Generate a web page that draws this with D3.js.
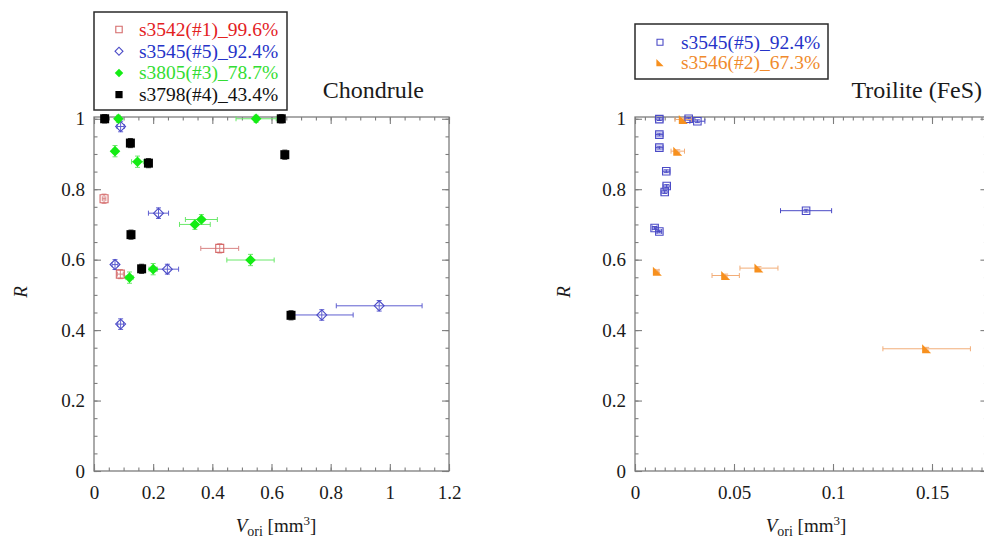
<!DOCTYPE html>
<html>
<head>
<meta charset="utf-8">
<script src="https://cdn.jsdelivr.net/npm/d3@7"></script>
<style>
  html, body { margin: 0; padding: 0; background: #fff; }
  svg { display: block; font-family: "Liberation Serif", "Times New Roman", serif; }
</style>
</head>
<body>
<svg id="chart" width="984" height="541"></svg>
<script>
/* =======================================================================
   Recovery ratio R vs. original volume – Chondrule / Troilite (FeS)
   ======================================================================= */

/* Data: each row is [V_ori, R, V error, R error]
======================================================================= */
var s3542Chondrule = [
  [0.034, 0.773, 0.006, 0.013],
  [0.089, 0.559, 0.010, 0.013],
  [0.425, 0.632, 0.064, 0.013]
];
var s3545Chondrule = [
  [0.090, 0.978, 0.012, 0.015],
  [0.218, 0.732, 0.034, 0.015],
  [0.071, 0.586, 0.010, 0.014],
  [0.248, 0.573, 0.038, 0.014],
  [0.090, 0.417, 0.010, 0.015],
  [0.770, 0.443, 0.106, 0.015],
  [0.964, 0.469, 0.145, 0.015]
];
var s3805Chondrule = [
  [0.0825, 1.000, 0.008, 0.010],
  [0.071, 0.908, 0.008, 0.016],
  [0.147, 0.878, 0.020, 0.016],
  [0.363, 0.714, 0.054, 0.014],
  [0.341, 0.700, 0.052, 0.014],
  [0.529, 0.599, 0.080, 0.016],
  [0.120, 0.549, 0.012, 0.016],
  [0.200, 0.573, 0.014, 0.016],
  [0.548, 1.000, 0.068, 0.010]
];
var s3798Chondrule = [
  [0.036, 1.000, 0.010, 0.012],
  [0.123, 0.931, 0.010, 0.013],
  [0.184, 0.874, 0.010, 0.013],
  [0.125, 0.671, 0.010, 0.013],
  [0.161, 0.574, 0.010, 0.013],
  [0.633, 1.000, 0.010, 0.012],
  [0.645, 0.898, 0.010, 0.013],
  [0.666, 0.442, 0.010, 0.013]
];
var s3545Troilite = [
  [0.0123, 0.999, 0.0018, 0.004],
  [0.0123, 0.955, 0.0018, 0.004],
  [0.0123, 0.918, 0.0018, 0.004],
  [0.0158, 0.851, 0.0018, 0.004],
  [0.0160, 0.809, 0.0018, 0.004],
  [0.0150, 0.792, 0.0018, 0.004],
  [0.0099, 0.690, 0.0012, 0.004],
  [0.0123, 0.680, 0.0012, 0.004],
  [0.0271, 1.000, 0.0018, 0.004],
  [0.0315, 0.993, 0.0038, 0.004],
  [0.0864, 0.739, 0.0129, 0.004]
];
var s3546Troilite = [
  [0.0244, 0.998, 0.0042, 0.004],
  [0.0216, 0.908, 0.0034, 0.004],
  [0.0113, 0.567, 0.0008, 0.004],
  [0.0458, 0.555, 0.0069, 0.004],
  [0.0626, 0.576, 0.0096, 0.004],
  [0.1473, 0.347, 0.0221, 0.004]
];

// Legend labels
var chondruleNames = ['s3542(#1)_99.6%', 's3545(#5)_92.4%', 's3805(#3)_78.7%', 's3798(#4)_43.4%'];
var troiliteNames = ['s3545(#5)_92.4%', 's3546(#2)_67.3%'];

// Tick values
var rTicks = [0, 0.2, 0.4, 0.6, 0.8, 1];
var vTicksChondrule = [0, 0.2, 0.4, 0.6, 0.8, 1, 1.2];
var vTicksTroilite = [0, 0.05, 0.1, 0.15];

/* Styles
======================================================================= */
var axisColor = '#7d7d7d',
    textColor = '#1a1a1a',
    svg = d3.select('#chart');

var styles = {
  red:    { shape: 'square',   size: 8,   stroke: '#d56a6a', fill: 'none',    bar: '#d98585', text: '#e3221f' },
  blueD:  { shape: 'diamond',  size: 7,   stroke: '#4a4ac6', fill: 'none',    bar: '#5f5fd0', text: '#2633c8' },
  green:  { shape: 'diamond',  size: 7.5, stroke: 'none',    fill: '#14ec14', bar: '#6ae86a', text: '#33dd33' },
  black:  { shape: 'square',   size: 9,   stroke: 'none',    fill: '#000',    bar: '#333',    text: '#111' },
  blueS:  { shape: 'square',   size: 7.5, stroke: '#4a4ac6', fill: 'none',    bar: '#4a4ac6', text: '#2633c8' },
  orange: { shape: 'triangle', size: 9,   stroke: 'none',    fill: '#f7901e', bar: '#f2ad78', text: '#f08a2c' }
};

var panels = [
  {
    title: 'Chondrule', titleX: 424,
    xDomain: [0, 1.2], xRange: [94, 449], xTicks: vTicksChondrule, xMinor: 0.05,
    labelX: 276, rX: 27,
    legend: { x: 94, y: 12, w: 193, h: 98, markX: 119, textX: 139, row0: 29.5, rowH: 21.7 },
    series: [
      { name: chondruleNames[0], data: s3542Chondrule, style: styles.red },
      { name: chondruleNames[1], data: s3545Chondrule, style: styles.blueD },
      { name: chondruleNames[2], data: s3805Chondrule, style: styles.green },
      { name: chondruleNames[3], data: s3798Chondrule, style: styles.black }
    ]
  },
  {
    title: 'Troilite (FeS)', titleX: 982,
    xDomain: [0, 0.178], xRange: [635, 635 + 0.178 * 1980], xTicks: vTicksTroilite, xMinor: 0.005,
    labelX: 806, rX: 570,
    legend: { x: 635, y: 24, w: 193, h: 55, markX: 660, textX: 681, row0: 42.3, rowH: 20.4 },
    series: [
      { name: troiliteNames[0], data: s3545Troilite, style: styles.blueS },
      { name: troiliteNames[1], data: s3546Troilite, style: styles.orange }
    ]
  }
];

/* Helpers
======================================================================= */

/**
 * Path for a marker shape of a given width
 */
function markerPath(shape, s) {
  var h = s / 2;
  if (shape === 'triangle') return 'M' + (-h) + ',' + (-h) + 'L' + (-h) + ',' + h + 'L' + h + ',' + h + 'Z';
  return d3.symbol(d3.symbolSquare, s * s)();
}

/**
 * Draw a marker at (cx, cy)
 */
function drawMarker(g, st, cx, cy, scale) {
  var s = st.size * (scale || 1);
  g.append('path')
    .attr('d', markerPath(st.shape, s))
    .attr('transform', 'translate(' + cx + ',' + cy + ')' + (st.shape === 'diamond' ? ' rotate(45)' : ''))
    .attr('fill', st.fill)
    .attr('stroke', st.stroke)
    .attr('stroke-width', 1.1);
}

/* Draw panels
======================================================================= */
function drawPanel(p) {

  var x = d3.scaleLinear().domain(p.xDomain).range(p.xRange),
      y = d3.scaleLinear().domain([0, 1.005]).range([471, 117]),
      x0 = p.xRange[0], x1 = p.xRange[1],
      y0 = y(0), y1 = y(1.005),
      xMinor = d3.range(0, p.xDomain[1] + 1e-9, p.xMinor),
      yMinor = d3.range(0, 1.0001, 0.05),
      g = svg.append('g');

  // Minor and major ticks on all four sides, pointing inward
  function axes(vals, size, labels) {
    var fmt = labels ? function(d) { return String(d); } : '';
    g.append('g').attr('class', 'ax').attr('transform', 'translate(0,' + y0 + ')')
      .call(d3.axisBottom(x).tickValues(vals.x).tickSize(-size).tickSizeOuter(0).tickPadding(15).tickFormat(fmt));
    g.append('g').attr('class', 'ax').attr('transform', 'translate(0,' + y1 + ')')
      .call(d3.axisTop(x).tickValues(vals.x).tickSize(-size).tickSizeOuter(0).tickFormat(''));
    g.append('g').attr('class', 'ax').attr('transform', 'translate(' + x0 + ',0)')
      .call(d3.axisLeft(y).tickValues(vals.y).tickSize(-size).tickSizeOuter(0).tickPadding(9).tickFormat(fmt));
    g.append('g').attr('class', 'ax').attr('transform', 'translate(' + x1 + ',0)')
      .call(d3.axisRight(y).tickValues(vals.y).tickSize(-size).tickSizeOuter(0).tickFormat(''));
  }
  axes({ x: xMinor, y: yMinor }, 3.5, false);
  axes({ x: p.xTicks, y: rTicks }, 7, true);

  g.selectAll('.ax .domain').remove();
  g.selectAll('.ax line').attr('stroke', axisColor).attr('stroke-width', 1.1);
  g.selectAll('.ax text').attr('fill', textColor).style('font-size', '19px')
    .style('font-family', '"Liberation Serif", "Times New Roman", serif');

  // Frame
  g.append('rect')
    .attr('x', x0).attr('y', y1).attr('width', x1 - x0).attr('height', y0 - y1)
    .attr('fill', 'none').attr('stroke', axisColor).attr('stroke-width', 1.3);

  // Error bars, then markers on top
  p.series.forEach(function(s) {
    var st = s.style, eb = g.append('g').attr('stroke', st.bar).attr('stroke-width', 1);
    s.data.forEach(function(d) {
      var cx = x(d[0]), cy = y(d[1]),
          xa = x(d[0] - d[2]), xb = x(d[0] + d[2]),
          ya = y(d[1] - d[3]), yb = y(d[1] + d[3]);
      eb.append('line').attr('x1', xa).attr('x2', xb).attr('y1', cy).attr('y2', cy);
      eb.append('line').attr('x1', xa).attr('x2', xa).attr('y1', cy - 2.5).attr('y2', cy + 2.5);
      eb.append('line').attr('x1', xb).attr('x2', xb).attr('y1', cy - 2.5).attr('y2', cy + 2.5);
      eb.append('line').attr('x1', cx).attr('x2', cx).attr('y1', ya).attr('y2', yb);
      eb.append('line').attr('x1', cx - 2.5).attr('x2', cx + 2.5).attr('y1', ya).attr('y2', ya);
      eb.append('line').attr('x1', cx - 2.5).attr('x2', cx + 2.5).attr('y1', yb).attr('y2', yb);
    });
  });
  p.series.forEach(function(s) {
    s.data.forEach(function(d) { drawMarker(g, s.style, x(d[0]), y(d[1])); });
  });

  // Title
  g.append('text')
    .attr('x', p.titleX).attr('y', 98)
    .attr('text-anchor', 'end')
    .attr('fill', textColor)
    .style('font-size', '24px')
    .text(p.title);

  // Axis labels
  var xl = g.append('text')
    .attr('x', p.labelX).attr('y', 532)
    .attr('text-anchor', 'middle')
    .attr('fill', textColor)
    .style('font-size', '19px');
  xl.append('tspan').style('font-style', 'italic').text('V');
  xl.append('tspan').attr('dy', 4).style('font-size', '14px').text('ori');
  xl.append('tspan').attr('dy', -4).text(' [mm');
  xl.append('tspan').attr('dy', -7).style('font-size', '13px').text('3');
  xl.append('tspan').attr('dy', 7).text(']');

  g.append('text')
    .attr('transform', 'translate(' + p.rX + ',292) rotate(-90)')
    .attr('text-anchor', 'middle')
    .attr('fill', textColor)
    .style('font-size', '19px')
    .style('font-style', 'italic')
    .text('R');

  // Legend
  var L = p.legend;
  g.append('rect')
    .attr('x', L.x).attr('y', L.y).attr('width', L.w).attr('height', L.h)
    .attr('fill', '#fff').attr('stroke', '#2a2a2a').attr('stroke-width', 1.5);
  p.series.forEach(function(s, i) {
    var cy = L.row0 + i * L.rowH;
    drawMarker(g, s.style, L.markX, cy, 0.8);
    g.append('text')
      .attr('x', L.textX).attr('y', cy + 6.5)
      .attr('fill', s.style.text)
      .style('font-size', '19.5px')
      .text(s.name);
  });
}

panels.forEach(drawPanel);
</script>
</body>
</html>
